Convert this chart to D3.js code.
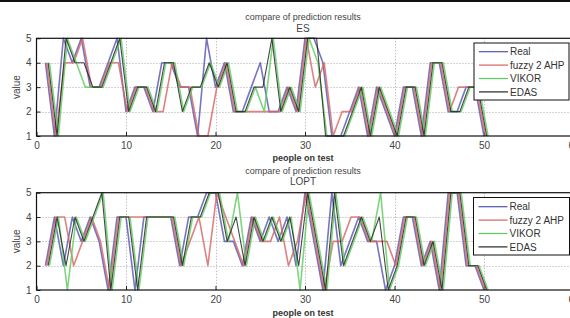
<!DOCTYPE html>
<html><head><meta charset="utf-8">
<script src="https://cdn.jsdelivr.net/npm/d3@7"></script>
<style>body{margin:0;background:#fff;} svg{display:block;} text{font-family:"Liberation Sans",Arial,sans-serif;}</style>
</head><body><svg id="c" width="570" height="318"></svg>
<script>
const seriesNames = ["Real", "fuzzy 2 AHP", "VIKOR", "EDAS"];
const people = d3.range(1, 51);
const xTicks = [0, 10, 20, 30, 40, 50, 60];
const yTicks = [1, 2, 3, 4, 5];
const plotTitle = "compare of prediction results";
const subTitles = ["ES", "LOPT"];
const xLabel = "people on test";
const yLabel = "value";

// ES panel
const esReal  = [4,1,5,4,5,3,3,4,5,2,3,3,2,4,4,3,3,1,5,3,4,2,2,3,4,2,2,3,2,5,5,4,1,1,2,3,1,3,2,1,3,3,1,4,4,2,2,3,3,1];
const esFuzzy = [4,1,4,4,5,3,3,4,4,2,3,3,2,2,4,3,3,1,1,3,4,2,2,2,2,2,2,3,2,5,3,4,1,2,2,3,1,3,2,1,3,3,1,4,4,2,3,3,3,1];
const esVikor = [4,1,5,4,3,3,3,4,5,2,3,3,2,4,4,2,3,3,4,3,4,2,2,3,2,5,2,3,2,5,4,1,1,1,2,3,1,3,2,1,3,3,1,4,4,2,2,3,3,1];
const esEdas  = [4,1,5,4,4,3,3,4,5,2,3,3,2,4,4,2,3,3,4,3,4,2,2,3,3,5,2,3,2,5,5,1,1,1,2,3,1,3,2,1,3,3,1,4,4,2,2,3,3,1];
// LOPT panel
const loReal  = [2,4,2,4,3,4,3,1,4,4,1,4,4,4,4,2,4,4,5,5,3,3,2,4,3,4,3,4,2,5,3,1,5,2,3,4,3,3,1,2,4,4,2,3,1,5,5,2,2,1];
const loFuzzy = [2,4,4,2,3,4,3,1,4,4,4,4,4,4,4,2,3,4,2,5,4,3,2,4,3,3,4,2,3,5,3,1,3,3,4,4,3,3,3,2,4,4,2,3,1,5,5,2,2,1];
const loVikor = [2,4,1,4,3,4,5,1,4,4,1,4,4,4,4,2,4,4,5,5,3,5,2,4,3,4,3,4,1,5,3,1,5,2,3,4,3,5,1,2,4,4,2,3,1,5,5,2,2,1];
const loEdas  = [2,4,2,4,3,4,5,1,4,4,1,4,4,4,4,2,4,4,5,5,3,4,2,4,3,4,3,4,2,5,3,1,5,2,3,4,3,4,1,2,4,4,2,3,1,5,5,2,2,1];

const panels = [
  {sub: subTitles[0], series: [esReal, esFuzzy, esVikor, esEdas], top: 38.3, bottom: 136, titleY: 19.5, subY: 31.5, tickY: 146.5, labelY: 160.5, legend: {x: 474, y: 43, w: 95, h: 57, ly0: 51.7}},
  {sub: subTitles[1], series: [loReal, loFuzzy, loVikor, loEdas], top: 192.7, bottom: 290, titleY: 174, subY: 185, tickY: 303, labelY: 316, legend: {x: 473.5, y: 197.5, w: 96, h: 57.5, ly0: 206.7}}
];
const colors = ["#5252b0", "#d86262", "#5ccc5c", "#262626"];
const xShift = [0, 0.15, 0.45, 0.3];
const drawOrder = [0, 1, 2, 3];

const svg = d3.select("#c");
svg.append("rect").attr("x",0).attr("y",0).attr("width",570).attr("height",2).attr("fill","#111");

const x = d3.scaleLinear().domain([0, 60]).range([36.5, 573.5]);

panels.forEach(p => {
  const y = d3.scaleLinear().domain([1, 5]).range([p.bottom, p.top]);
  const g = svg.append("g");
  g.selectAll(".gx").data(xTicks.filter(t => t > 0 && t < 60)).join("line")
    .attr("x1", d => Math.round(x(d)) + 0.5).attr("x2", d => Math.round(x(d)) + 0.5)
    .attr("y1", p.top).attr("y2", p.bottom)
    .attr("stroke", "#a8a8a8").attr("stroke-width", 1).attr("stroke-dasharray", "1,2");
  g.selectAll(".gy").data(yTicks.filter(t => t > 1 && t < 5)).join("line")
    .attr("x1", x(0)).attr("x2", x(60))
    .attr("y1", d => Math.round(y(d)) + 0.5).attr("y2", d => Math.round(y(d)) + 0.5)
    .attr("stroke", "#a8a8a8").attr("stroke-width", 1).attr("stroke-dasharray", "1,2");
  const xa = d3.axisBottom(x).tickValues(xTicks).tickSize(-4).tickPadding(6).tickFormat(d3.format("d"));
  const ya = d3.axisLeft(y).tickValues(yTicks).tickSize(-4).tickPadding(5).tickFormat(d3.format("d"));
  const gx = g.append("g").attr("transform", `translate(0,${p.bottom})`).call(xa);
  const gy = g.append("g").attr("transform", `translate(${x(0)},0)`).call(ya);
  [gx, gy].forEach(a => {
    a.select(".domain").remove();
    a.selectAll("line").attr("stroke", "#222");
    a.selectAll("text").attr("font-size", 10).attr("fill", "#444");
  });
  drawOrder.forEach(i => {
    const line = d3.line().x((d, k) => x(people[k] + xShift[i])).y(d => y(d));
    g.append("path").datum(p.series[i]).attr("d", line)
      .attr("fill", "none").attr("stroke", colors[i]).attr("stroke-width", i === 3 ? 1.1 : 1.6)
      .attr("stroke-opacity", i === 3 ? 0.85 : 0.8).attr("stroke-linejoin", "round");
  });
  g.append("rect").attr("x", x(0)).attr("y", p.top).attr("width", x(60) - x(0)).attr("height", p.bottom - p.top)
    .attr("fill", "none").attr("stroke", "#111").attr("stroke-width", 1.2);
  g.append("text").attr("x", 303).attr("y", p.titleY).attr("text-anchor", "middle").attr("font-size", 9).attr("fill", "#444").text(plotTitle);
  g.append("text").attr("x", 303).attr("y", p.subY).attr("text-anchor", "middle").attr("font-size", 10).attr("fill", "#444").text(p.sub);
  g.append("text").attr("x", 303).attr("y", p.labelY).attr("text-anchor", "middle").attr("font-size", 9).attr("fill", "#333").attr("font-weight", "bold").text(xLabel);
  g.append("text").attr("transform", `translate(20,${(p.top + p.bottom) / 2}) rotate(-90)`).attr("text-anchor", "middle")
    .attr("font-size", 10).attr("fill", "#444").text(yLabel);
  const L = p.legend;
  const lg = g.append("g");
  lg.append("rect").attr("x", L.x).attr("y", L.y).attr("width", L.w).attr("height", L.h).attr("fill", "#fff").attr("stroke", "#111").attr("stroke-width", 1);
  seriesNames.forEach((n, i) => {
    const yy = L.ly0 + i * 13.4;
    lg.append("line").attr("x1", L.x + 5).attr("x2", L.x + 34).attr("y1", yy).attr("y2", yy).attr("stroke", colors[i]).attr("stroke-width", 1.2);
    lg.append("text").attr("x", L.x + 36).attr("y", yy + 3.6).attr("font-size", 10).attr("fill", "#333").text(n);
  });
});
</script></body></html>
